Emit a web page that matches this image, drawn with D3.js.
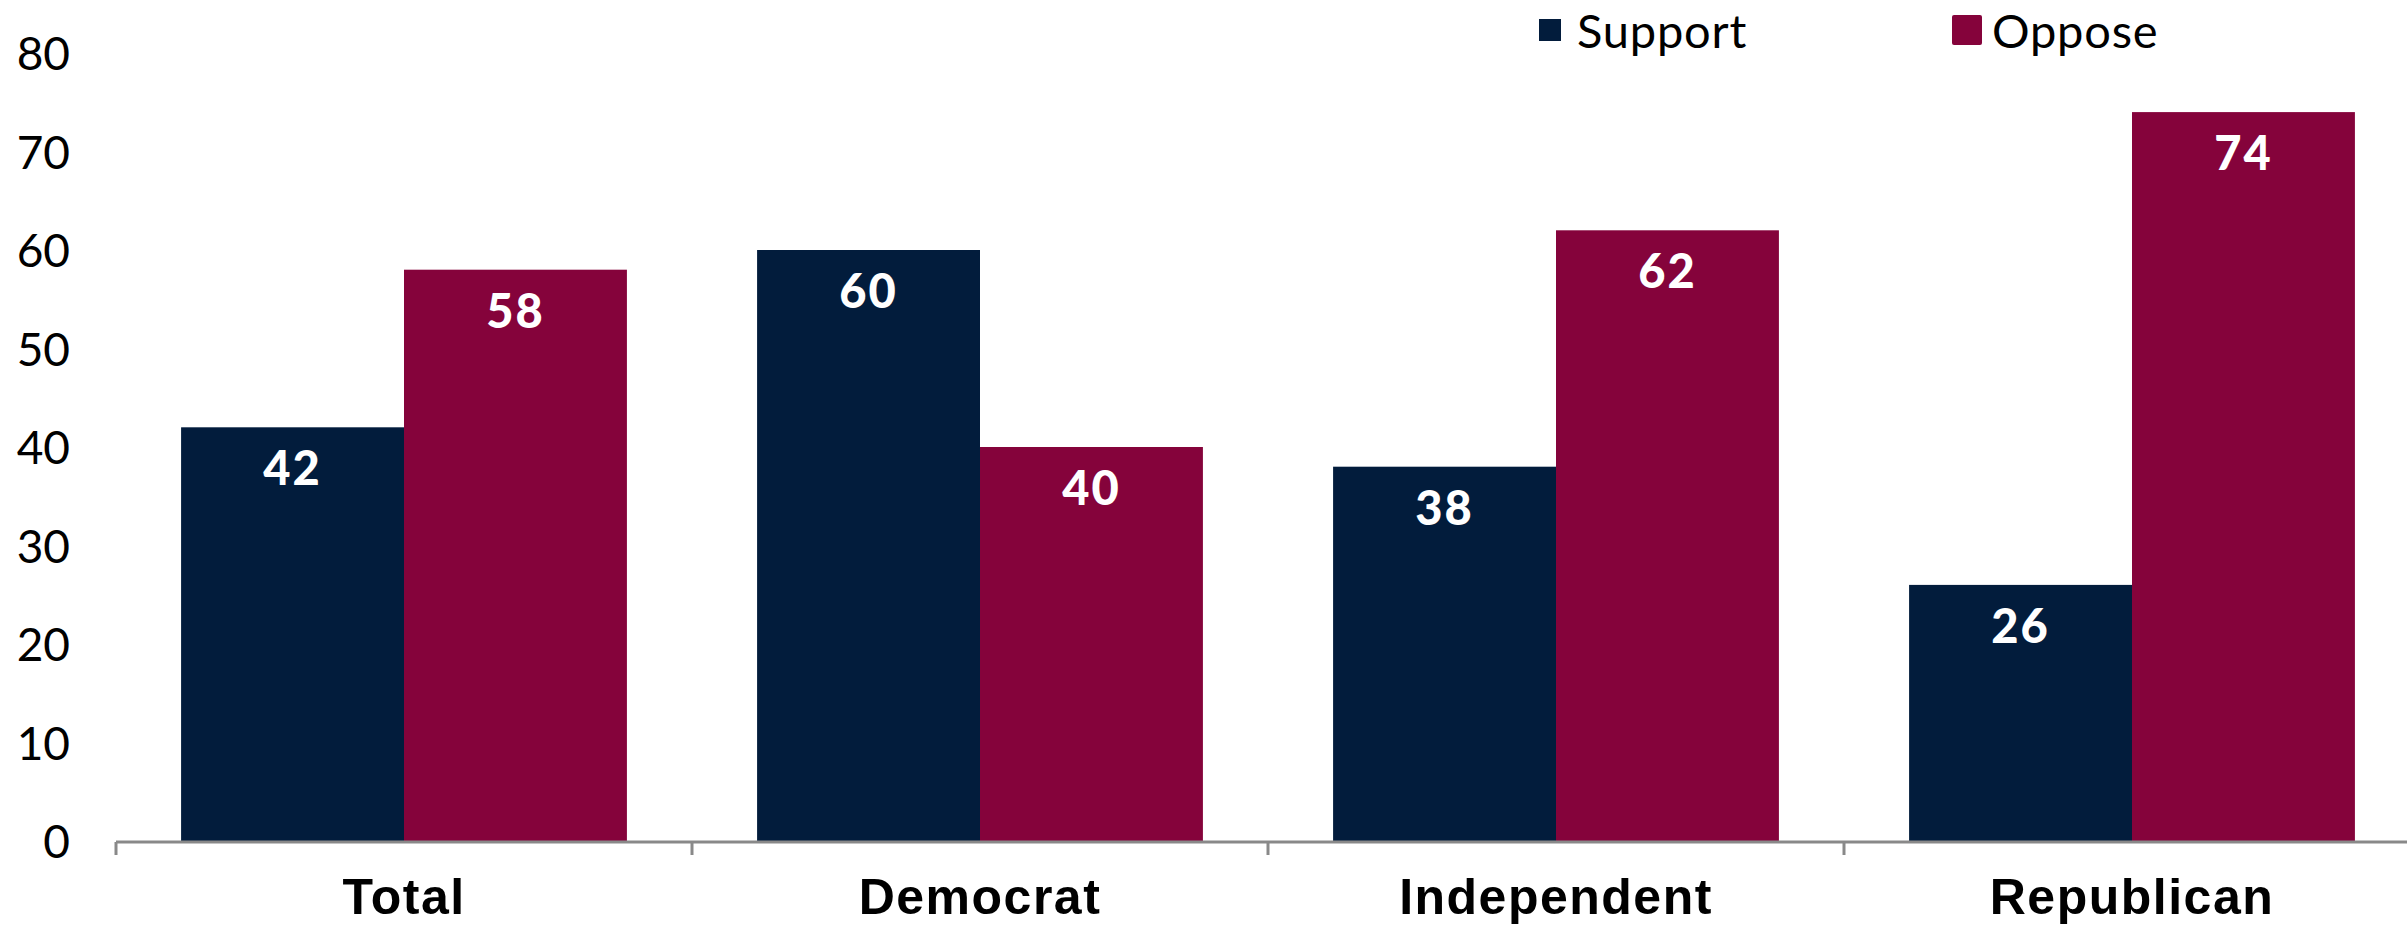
<!DOCTYPE html>
<html>
<head>
<meta charset="utf-8">
<script src="https://cdn.jsdelivr.net/npm/d3@7"></script>
<style>
  html, body { margin: 0; padding: 0; background: #fff; }
  svg { display: block; font-family: Lato, "Open Sans", sans-serif; }
</style>
</head>
<body>
<svg id="chart" width="2407" height="928"></svg>
<script>
const categories = ["Total", "Democrat", "Independent", "Republican"];
const seriesNames = ["Support", "Oppose"];
const support = [42, 60, 38, 26];
const oppose = [58, 40, 62, 74];
const yTicks = [0, 10, 20, 30, 40, 50, 60, 70, 80];
const colors = ["#021c3c", "#85033b"];

const data = categories.map((c, i) => ({ cat: c, values: [support[i], oppose[i]] }));

const svg = d3.select("#chart");
const y = d3.scaleLinear().domain([0, 80]).range([841, 53]);
const x0 = d3.scaleBand().domain(categories).range([116, 2420]).paddingInner(0.226).paddingOuter(0.113);
const x1 = d3.scaleBand().domain(seriesNames).range([0, x0.bandwidth()]).padding(0);

// y axis labels (no line)
const yAxis = d3.axisLeft(y).tickValues(yTicks).tickSize(0).tickPadding(0);
const gy = svg.append("g").attr("transform", "translate(70,0)").call(yAxis);
gy.select(".domain").remove();
gy.selectAll("text").attr("font-size", 46).attr("font-family", "Lato, sans-serif").attr("fill", "#000").attr("dy", "0.36em");

// bars
const groups = svg.append("g").selectAll("g").data(data).join("g")
  .attr("transform", d => `translate(${x0(d.cat)},0)`);
groups.selectAll("rect").data(d => d.values.map((v, k) => ({ s: seriesNames[k], v, k })))
  .join("rect")
  .attr("x", d => x1(d.s))
  .attr("y", d => y(d.v))
  .attr("width", x1.bandwidth())
  .attr("height", d => y(0) - y(d.v))
  .attr("fill", d => colors[d.k]);
groups.selectAll("text.val").data(d => d.values.map((v, k) => ({ s: seriesNames[k], v, k })))
  .join("text")
  .attr("class", "val")
  .attr("x", d => x1(d.s) + x1.bandwidth() / 2)
  .attr("y", d => y(d.v) + 58)
  .attr("text-anchor", "middle")
  .attr("font-size", 47)
  .attr("font-weight", 900)
  .attr("letter-spacing", 2)
  .attr("fill", "#fff")
  .text(d => d.v);

// x axis
const xAxis = d3.axisBottom(x0).tickSize(0).tickPadding(0);
const gx = svg.append("g").attr("transform", "translate(0,842)").call(xAxis);
gx.select(".domain").attr("stroke", "#898989").attr("stroke-width", 3).attr("d", "M116,0H2407");
gx.selectAll("text").attr("font-size", 50).attr("font-weight", 900).attr("fill", "#000")
  .attr("letter-spacing", 1.5)
  .attr("dy", 0).attr("y", 72);
// category separator ticks
const bounds = categories.map(c => x0(c) - x0.step() * x0.paddingInner() / 2);
bounds[0] = 116;
gx.selectAll("line.sep").data(bounds).join("line")
  .attr("class", "sep")
  .attr("x1", d => d).attr("x2", d => d)
  .attr("y1", 0).attr("y2", 13)
  .attr("stroke", "#898989").attr("stroke-width", 3);

// legend
const legend = svg.append("g");
const legItems = [
  { name: seriesNames[0], sx: 1539, sy: 19, size: 22, tx: 1577 },
  { name: seriesNames[1], sx: 1952, sy: 15, size: 30, tx: 1992 }
];
legItems.forEach((d, i) => {
  legend.append("rect").attr("x", d.sx).attr("y", d.sy).attr("width", d.size).attr("height", d.size)
    .attr("rx", i === 1 ? 2 : 0).attr("fill", colors[i]);
  legend.append("text").attr("x", d.tx).attr("y", 48).attr("font-size", 47)
    .attr("letter-spacing", 0.8).attr("fill", "#000").text(d.name);
});
</script>
</body>
</html>
